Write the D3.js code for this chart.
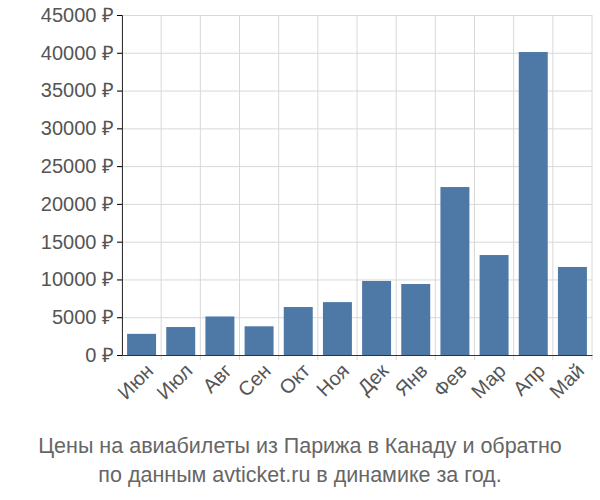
<html>
<head>
<script src="https://cdn.jsdelivr.net/npm/d3@7"></script>
<style>
  body { margin: 0; background: #fff; }
  text { font-family: "Liberation Sans", Arial, sans-serif; }
</style>
</head>
<body>
<svg id="svg"></svg>
<script>
  var months = ["Июн", "Июл", "Авг", "Сен", "Окт", "Ноя", "Дек", "Янв", "Фев", "Мар", "Апр", "Май"];
  var prices = [2800, 3700, 5100, 3800, 6350, 7000, 9800, 9400, 22230, 13230, 40100, 11650];
  var yTicks = [0, 5000, 10000, 15000, 20000, 25000, 30000, 35000, 40000, 45000];
  var titleLines = ["Цены на авиабилеты из Парижа в Канаду и обратно", "по данным avticket.ru в динамике за год."];

  var width = 600, height = 500,
      padL = 122, padR = 592, padT = 15, padB = 355;

  var svg = d3.select("#svg").attr("width", width).attr("height", height);

  var x = d3.scaleBand().domain(months).range([padL, padR]).paddingInner(0.26).paddingOuter(0.13);
  var y = d3.scaleLinear().domain([0, 45000]).range([padB, padT]);

  // grid
  svg.selectAll("line.h").data(yTicks).enter().append("line")
    .attr("x1", padL - 4).attr("x2", padR)
    .attr("y1", d => y(d) + 0.5).attr("y2", d => y(d) + 0.5)
    .attr("stroke", "#d8d8d8");
  var bounds = months.map(m => x(m) - x.step() * x.paddingInner() / 2).concat([padR]);
  svg.selectAll("line.v").data(bounds).enter().append("line")
    .attr("x1", d => d).attr("x2", d => d)
    .attr("y1", padT).attr("y2", padB + 5)
    .attr("stroke", "#d8d8d8");

  // bars
  svg.selectAll("rect").data(prices).enter().append("rect")
    .attr("x", (d, i) => x(months[i]))
    .attr("width", x.bandwidth())
    .attr("y", d => y(d))
    .attr("height", d => padB - y(d))
    .attr("fill", "#4e79a7");

  // y axis
  var yAxis = svg.append("g").attr("transform", "translate(" + padL + ",0)")
    .call(d3.axisLeft(y).tickValues(yTicks).tickSize(5).tickFormat(d => d + " ₽"));
  yAxis.select(".domain").attr("stroke", "#333");
  yAxis.selectAll("text").attr("font-size", 20).attr("fill", "#555");

  // x axis
  var xAxis = svg.append("g").attr("transform", "translate(0," + padB + ")")
    .call(d3.axisBottom(x).tickSize(0));
  xAxis.select(".domain").attr("stroke", "#333");
  xAxis.selectAll("text")
    .attr("font-size", 20).attr("fill", "#555")
    .attr("text-anchor", "end")
    .attr("dy", "0.35em")
    .attr("transform", "translate(6,10) rotate(-45)");

  svg.selectAll("text.title").data(titleLines).enter().append("text")
    .attr("x", width / 2).attr("y", (d, i) => 453 + i * 29)
    .attr("text-anchor", "middle").attr("font-size", 21.5).attr("fill", "#666")
    .text(d => d);
</script>
</body>
</html>
